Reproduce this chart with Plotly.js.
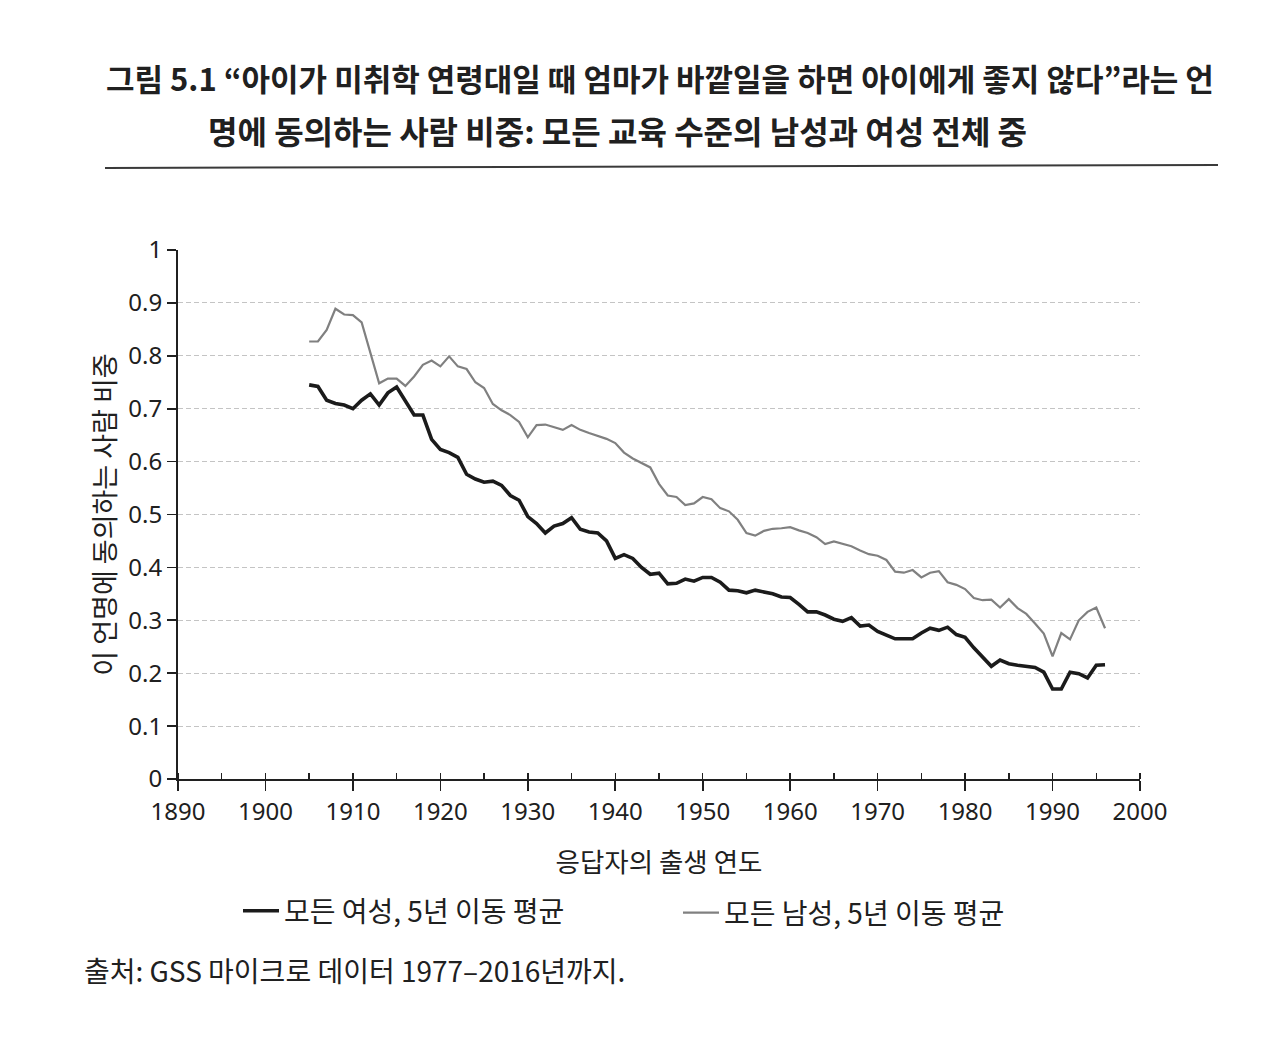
<!DOCTYPE html>
<html>
<head>
<meta charset="utf-8">
<script src="https://cdn.plot.ly/plotly-3.0.1.min.js"></script>
<style>
html,body{margin:0;padding:0;background:#ffffff;}
#chart{width:1280px;height:1054px;}
</style>
</head>
<body>
<div id="chart"></div>
<script>
// Birth years of respondents
const years = [];
for (let y = 1905; y <= 1996; y++) years.push(y);

// All women, 5-year moving average
const womenShare = [
  0.745, 0.742, 0.716, 0.710, 0.707, 0.700, 0.716, 0.728, 0.707, 0.730,
  0.741, 0.716, 0.688, 0.688, 0.642, 0.623, 0.617, 0.608, 0.576, 0.567,
  0.561, 0.563, 0.555, 0.536, 0.527, 0.496, 0.483, 0.465, 0.478, 0.483,
  0.494, 0.472, 0.467, 0.465, 0.450, 0.417, 0.424, 0.417, 0.400, 0.387,
  0.389, 0.369, 0.370, 0.378, 0.374, 0.381, 0.381, 0.372, 0.357, 0.356,
  0.352, 0.357, 0.354, 0.350, 0.344, 0.343, 0.330, 0.316, 0.316, 0.310,
  0.302, 0.298, 0.305, 0.289, 0.291, 0.279, 0.272, 0.265, 0.265, 0.265,
  0.276, 0.285, 0.281, 0.287, 0.273, 0.268, 0.248, 0.230, 0.213, 0.225,
  0.218, 0.215, 0.213, 0.211, 0.202, 0.170, 0.170, 0.202, 0.199, 0.191,
  0.215, 0.216
];

// All men, 5-year moving average
const menShare = [
  0.827, 0.827, 0.849, 0.889, 0.878, 0.877, 0.863, 0.805, 0.748, 0.757,
  0.757, 0.743, 0.761, 0.783, 0.791, 0.780, 0.799, 0.780, 0.775, 0.750,
  0.739, 0.709, 0.697, 0.688, 0.675, 0.646, 0.669, 0.670, 0.665, 0.660,
  0.669, 0.660, 0.654, 0.649, 0.643, 0.635, 0.617, 0.606, 0.598, 0.589,
  0.558, 0.536, 0.533, 0.518, 0.521, 0.533, 0.529, 0.512, 0.506, 0.490,
  0.465, 0.460, 0.469, 0.473, 0.474, 0.476, 0.470, 0.465, 0.457, 0.444,
  0.449, 0.445, 0.440, 0.432, 0.425, 0.422, 0.414, 0.392, 0.390, 0.395,
  0.381, 0.390, 0.393, 0.372, 0.367, 0.359, 0.342, 0.338, 0.339, 0.324,
  0.340, 0.323, 0.312, 0.294, 0.275, 0.232, 0.276, 0.264, 0.300, 0.316,
  0.324, 0.285
];

const seriesNames = ['모든 여성, 5년 이동 평균', '모든 남성, 5년 이동 평균'];
const titleLine1 = '그림 5.1 “아이가 미취학 연령대일 때 엄마가 바깥일을 하면 아이에게 좋지 않다”라는 언';
const titleLine2 = '명에 동의하는 사람 비중: 모든 교육 수준의 남성과 여성 전체 중';
const xTitle = '응답자의 출생 연도';
const yTitle = '이 언명에 동의하는 사람 비중';
const sourceNote = '출처: GSS 마이크로 데이터 1977–2016년까지.';

const KR = '"Noto Sans CJK KR", "Noto Sans", sans-serif';
const NUM = '"Noto Sans", "Noto Sans CJK KR", sans-serif';
const ink = '#202020';

// plot area geometry (pixels)
const W = 1280, H = 1054;
const mL = 178, mR = 140, mT = 250, mB = 275;
const pw = W - mL - mR, ph = H - mT - mB;
const px = v => (v - mL) / pw;
const py = v => (H - mB - v) / ph;

const traces = [
  {
    x: years, y: womenShare, type: 'scatter', mode: 'lines',
    name: seriesNames[0], legend: 'legend',
    line: {color: '#1b1b1b', width: 3.6}
  },
  {
    x: years, y: menShare, type: 'scatter', mode: 'lines',
    name: seriesNames[1], legend: 'legend2',
    line: {color: '#808080', width: 2.2}
  }
];

const legendCommon = {
  orientation: 'h', xanchor: 'left', yanchor: 'middle',
  itemwidth: 36,
  font: {family: KR, size: 28, color: ink},
  bgcolor: 'rgba(0,0,0,0)', borderwidth: 0,
  itemclick: false, itemdoubleclick: false
};

const layout = {
  width: W, height: H,
  paper_bgcolor: '#ffffff', plot_bgcolor: '#ffffff',
  margin: {l: mL, r: mR, t: mT, b: mB, autoexpand: false},
  showlegend: true,
  title: {
    text: titleLine1,
    font: {family: KR, size: 31, color: ink, weight: 700},
    xref: 'container', x: 106 / W, xanchor: 'left',
    yref: 'container', y: 1 - 80 / H, yanchor: 'middle'
  },
  font: {family: KR, color: ink},
  xaxis: {
    range: [1890, 2000],
    dtick: 10, tick0: 1890,
    ticks: 'outside', ticklen: 10, tickwidth: 1.6, tickcolor: ink,
    minor: {dtick: 5, ticks: 'inside', ticklen: 6, tickwidth: 1.4, tickcolor: ink, showgrid: false},
    showline: true, linecolor: ink, linewidth: 2,
    showgrid: false, zeroline: false,
    tickfont: {family: NUM, size: 24, color: ink},
    title: {text: xTitle, font: {family: KR, size: 26.5, color: ink}, standoff: 28},
    fixedrange: true
  },
  xaxis2: {
    range: [1890, 2000], overlaying: 'x', anchor: 'y', side: 'bottom',
    dtick: 10, tick0: 1890,
    ticks: 'inside', ticklen: 10, tickwidth: 1.6, tickcolor: ink,
    showticklabels: false, showgrid: false, showline: false, zeroline: false
  },
  yaxis: {
    range: [0, 1], dtick: 0.1, tick0: 0,
    ticks: 'outside', ticklen: 9, tickwidth: 1.6, tickcolor: ink,
    showline: true, linecolor: ink, linewidth: 2,
    showgrid: true, gridcolor: '#c4c4c4', gridwidth: 1, griddash: '5px,3px',
    zeroline: false,
    tickfont: {family: NUM, size: 24, color: ink},
    title: {text: yTitle, font: {family: KR, size: 27, color: ink}, standoff: 5},
    fixedrange: true
  },
  legend: Object.assign({}, legendCommon, {x: px(238), y: py(911)}),
  legend2: Object.assign({}, legendCommon, {x: px(678), y: py(913)}),
  annotations: [
    {
      text: titleLine2, showarrow: false,
      xref: 'paper', yref: 'paper',
      x: px(206), xanchor: 'left',
      y: py(130), yanchor: 'middle',
      font: {family: KR, size: 32, color: ink, weight: 700}
    },
    {
      text: sourceNote, showarrow: false,
      xref: 'paper', yref: 'paper',
      x: px(82), xanchor: 'left',
      y: py(970), yanchor: 'middle',
      font: {family: KR, size: 28, color: ink}
    }
  ],
  shapes: [
    {
      type: 'line', xref: 'paper', yref: 'paper',
      x0: px(105), x1: px(1218), y0: py(168), y1: py(165),
      line: {color: '#3a3a3a', width: 2}
    }
  ]
};

Plotly.newPlot('chart', traces, layout, {displayModeBar: false, staticPlot: true});
</script>
</body>
</html>
